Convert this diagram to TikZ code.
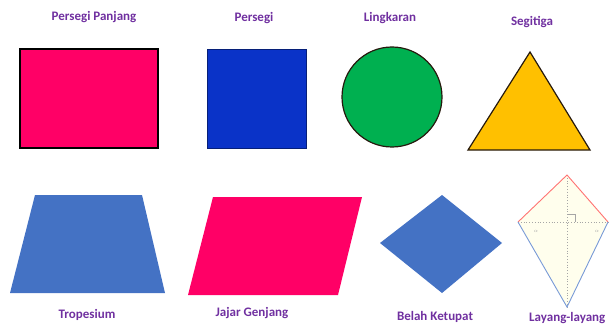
\documentclass[tikz,border=0pt]{standalone}
\usepackage{fontspec}
\setmainfont{Carlito}
\usepackage{tikz}
\usetikzlibrary{positioning,calc}
\definecolor{bgMerahMuda}{HTML}{FF0066}
\definecolor{bgBiruTua}{HTML}{0A33C8}
\definecolor{bgHijau}{HTML}{00B050}
\definecolor{bgKuning}{HTML}{FFC000}
\definecolor{bgBiruSedang}{HTML}{4472C4}
\definecolor{txtUngu}{HTML}{7030A0}
\colorlet{garisGelap}{black!80!brown}

\begin{document}
\begin{tikzpicture}[
        x=1pt,
        y=-1pt,
        lbl/.style={font=\bfseries\fontsize{13}{15}\selectfont, txtUngu, inner sep=0pt},
        bangun/.style={line join=miter},
        sisiAtas/.style={red!55!white, line width=0.9pt},
        sisiBawah/.style={cyan!45!blue!55!white, line width=0.9pt},
        diag/.style={dotted, line width=0.8pt, black!35}
    ]
        \useasboundingbox (0,0) rectangle (609,331);

        % Baris atas: persegi panjang, persegi, lingkaran, segitiga.
        \draw[bangun, fill=bgMerahMuda, draw=black, line width=1.6pt] (20,49) rectangle (158,148);
        \node[lbl] (lblPersegiPanjang) at (94,17) {Persegi Panjang};

        \draw[bangun, fill=bgBiruTua, draw=bgBiruTua!60!black, line width=0.8pt] (207,49) rectangle (306,148);
        \node[lbl] (lblPersegi) at (254,18) {Persegi};

        \draw[fill=bgHijau, draw=garisGelap, line width=1.2pt] (392,97) circle (50);
        \node[lbl] (lblLingkaran) at (390,18) {Lingkaran};

        \draw[bangun, fill=bgKuning, draw=garisGelap, line width=1.2pt] (530,52) -- (590,150) -- (468,150) -- cycle;
        \node[lbl] (lblSegitiga) at (532,22) {Segitiga};

        % Baris bawah: trapesium, jajar genjang, belah ketupat, layang-layang.
        \fill[bgBiruSedang] (35,195) -- (142,195) -- (165,293) -- (10,293) -- cycle;
        \node[lbl] (lblTrapesium) at (87,315) {Tropesium};

        \fill[bgMerahMuda] (213,197) -- (362,197) -- (338,295) -- (188,295) -- cycle;
        \node[lbl] (lblJajarGenjang) at (252,313) {Jajar Genjang};

        \fill[bgBiruSedang] (380,243) -- (442,195) -- (502,243) -- (442,293) -- cycle;
        \node[lbl] (lblBelahKetupat) at (435,317) {Belah Ketupat};

        \coordinate (kA) at (567,175);
        \coordinate (kL) at (518,222);
        \coordinate (kR) at (608,222);
        \coordinate (kB) at (567,307);
        \coordinate (kO) at (567,222);
        \fill[yellow!7] (kA) -- (kR) -- (kB) -- (kL) -- cycle;
        \draw[diag] (kL) -- (kR);
        \draw[diag] (kA) -- (kB);
        \draw[black!35, line width=0.5pt] ($(kO)+(0,-8)$) -- ++(8,0) -- ++(0,8);
        \node[font=\tiny, black!35, inner sep=0pt] (sudutKiri) at (536,231) {$\alpha$};
        \node[font=\tiny, black!35, inner sep=0pt] (sudutKanan) at (597,231) {$\alpha$};
        \draw[sisiAtas] (kL) -- (kA) -- (kR);
        \draw[sisiBawah] (kL) -- (kB) -- (kR);
        \node[lbl, anchor=west] (lblLayang) at (529,318) {Layang-layang};
    \end{tikzpicture}
\end{document}
